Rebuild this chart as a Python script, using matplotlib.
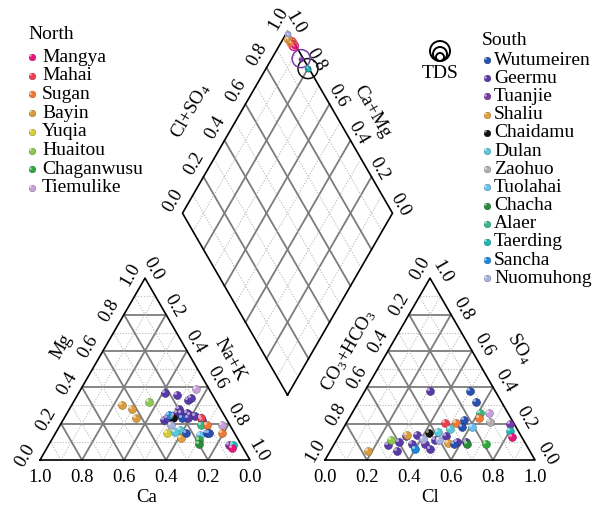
import numpy as np
import matplotlib.pyplot as plt
from matplotlib.colors import to_rgb
from matplotlib.patches import Circle

plt.rcParams['font.family'] = ['Liberation Serif', 'DejaVu Serif']
plt.rcParams['mathtext.fontset'] = 'custom'
plt.rcParams['mathtext.rm'] = 'Liberation Serif'
plt.rcParams['mathtext.it'] = 'Liberation Serif:italic'

# ---- data ----
north_sites = ['Mangya', 'Mahai', 'Sugan', 'Bayin', 'Yuqia', 'Huaitou',
               'Chaganwusu', 'Tiemulike']
south_sites = ['Wutumeiren', 'Geermu', 'Tuanjie', 'Shaliu', 'Chaidamu', 'Dulan',
               'Zaohuo', 'Tuolahai', 'Chacha', 'Alaer', 'Taerding', 'Sancha',
               'Nuomuhong']
site_colors = {
    'Mangya': '#e8177d', 'Mahai': '#ec3f4f', 'Sugan': '#f07a35',
    'Bayin': '#dc9c3c', 'Yuqia': '#d8cc38', 'Huaitou': '#8cc850',
    'Chaganwusu': '#2fa83c', 'Tiemulike': '#c8a0d8',
    'Wutumeiren': '#2850b0', 'Geermu': '#5a3aa8', 'Tuanjie': '#7a3aa8',
    'Shaliu': '#e0a040', 'Chaidamu': '#101010', 'Dulan': '#58c8d8',
    'Zaohuo': '#b0b0b0', 'Tuolahai': '#68c0f0', 'Chacha': '#2a8a3a',
    'Alaer': '#38b888', 'Taerding': '#18b8b8', 'Sancha': '#1888d8',
    'Nuomuhong': '#a8b0e0',
}

# cations (fractions), Na+K = 1 - Ca - Mg
cat_site = ['Bayin', 'Bayin', 'Bayin', 'Huaitou', 'Geermu', 'Geermu', 'Geermu',
            'Geermu', 'Tiemulike', 'Geermu', 'Geermu', 'Geermu', 'Geermu',
            'Geermu', 'Geermu', 'Geermu', 'Geermu', 'Geermu', 'Geermu', 'Geermu',
            'Geermu', 'Mahai', 'Chaidamu', 'Wutumeiren', 'Sancha', 'Nuomuhong',
            'Dulan', 'Dulan', 'Yuqia', 'Shaliu', 'Wutumeiren', 'Alaer', 'Sugan',
            'Tuolahai', 'Wutumeiren', 'Wutumeiren', 'Chaganwusu', 'Chacha',
            'Tiemulike', 'Sugan', 'Tuanjie', 'Taerding', 'Mangya']
cat_ca = [0.46, 0.42, 0.43, 0.32, 0.22, 0.17, 0.13, 0.11, 0.06, 0.20, 0.22,
          0.20, 0.17, 0.16, 0.14, 0.12, 0.30, 0.28, 0.24, 0.18, 0.12, 0.12,
          0.25, 0.21, 0.26, 0.28, 0.25, 0.28, 0.32, 0.27, 0.23, 0.14, 0.11,
          0.17, 0.13, 0.12, 0.19, 0.20, 0.04, 0.06, 0.06, 0.04, 0.055]
cat_mg = [0.30, 0.28, 0.23, 0.32, 0.37, 0.36, 0.33, 0.34, 0.39, 0.28, 0.26,
          0.26, 0.26, 0.25, 0.24, 0.23, 0.22, 0.23, 0.24, 0.23, 0.22, 0.23,
          0.23, 0.23, 0.25, 0.19, 0.165, 0.155, 0.15, 0.12, 0.15, 0.19, 0.19,
          0.14, 0.15, 0.15, 0.11, 0.09, 0.19, 0.15, 0.08, 0.08, 0.065]

# anions (fractions), CO3+HCO3 = 1 - Cl - SO4
an_site = ['Geermu', 'Wutumeiren', 'Wutumeiren', 'Alaer', 'Tiemulike', 'Sugan',
           'Zaohuo', 'Tuanjie', 'Taerding', 'Mangya', 'Mahai', 'Sugan',
           'Wutumeiren', 'Wutumeiren', 'Tuolahai', 'Dulan', 'Dulan', 'Chaidamu',
           'Geermu', 'Geermu', 'Geermu', 'Geermu', 'Geermu', 'Geermu', 'Geermu',
           'Geermu', 'Geermu', 'Geermu', 'Geermu', 'Geermu', 'Huaitou', 'Bayin',
           'Bayin', 'Nuomuhong', 'Nuomuhong', 'Sancha', 'Shaliu', 'Wutumeiren',
           'Chacha', 'Chaganwusu']
an_cl = [0.31, 0.50, 0.56, 0.61, 0.65, 0.62, 0.68, 0.78, 0.80, 0.83, 0.47,
         0.52, 0.55, 0.56, 0.61, 0.46, 0.51, 0.42, 0.37, 0.32, 0.30, 0.26,
         0.32, 0.37, 0.43, 0.47, 0.47, 0.51, 0.58, 0.62, 0.26, 0.32, 0.18,
         0.41, 0.49, 0.40, 0.54, 0.57, 0.63, 0.72]
an_so4 = [0.38, 0.38, 0.32, 0.26, 0.26, 0.23, 0.21, 0.20, 0.16, 0.125, 0.205,
          0.205, 0.22, 0.18, 0.18, 0.155, 0.17, 0.15, 0.14, 0.13, 0.10, 0.08,
          0.05, 0.09, 0.09, 0.06, 0.11, 0.13, 0.10, 0.10, 0.11, 0.14, 0.05,
          0.115, 0.11, 0.06, 0.095, 0.09, 0.09, 0.09]

# diamond: Cl+SO4, Ca+Mg and TDS ring radius (px)
dia_site = ['Chaidamu', 'Tuanjie', 'Mangya', 'Mahai', 'Sugan', 'Bayin',
            'Taerding', 'Nuomuhong']
dia_clso4 = [0.995, 0.99, 0.99, 0.99, 0.985, 0.98, 0.995, 0.995]
dia_camg = [0.80, 0.86, 0.93, 0.95, 0.95, 0.975, 0.80, 0.99]
dia_tds = [10, 9, 4.5, 4.5, 3.5, 3.5, 2.5, 2.5]

# ---- geometry ----
S = 210.0                      # px per unit side
H = np.sqrt(3) / 2
GAP = 75 / S
X0R = 1 + GAP                  # right triangle origin
B = np.array([1 + GAP / 2, GAP * H])
L = B + np.array([-0.5, H])
R = B + np.array([0.5, H])


def px(x, y):
    return (x - 40) / S, (460 - y) / S


def cat_xy(ca, mg):
    nak = 1 - ca - mg
    return nak + mg / 2, mg * H


def an_xy(cl, so4):
    return X0R + cl + so4 / 2, so4 * H


def dia_xy(clso4, camg):
    p = B + camg * (L - B) + clso4 * (R - B)
    return p[0], p[1]


fig = plt.figure(figsize=(6.03, 5.07), dpi=100)
ax = fig.add_axes([0, 0, 1, 1])
ax.set_xlim(-40 / S, 563 / S)
ax.set_ylim(-47 / S, 460 / S)
ax.axis('off')

major = dict(color='#7c7c7c', lw=1.3, zorder=1)
minor = dict(color='#b8b8b8', lw=0.8, ls=(0, (1, 1.5)), zorder=1)


def tri_grid(x0):
    for i in range(1, 10):
        t = i / 10
        st = major if i % 2 == 0 else minor
        ax.plot([x0 + t / 2, x0 + 1 - t / 2], [t * H, t * H], **st)
        ax.plot([x0 + t, x0 + t / 2 + 0.5], [0, (1 - t) * H], **st)
        ax.plot([x0 + t, x0 + t / 2], [0, t * H], **st)
    ax.plot([x0, x0 + 1, x0 + 0.5, x0], [0, 0, H, 0], color='k', lw=1.2, zorder=2)


tri_grid(0)
tri_grid(X0R)
for i in range(1, 10):
    t = i / 10
    st = major if i % 2 == 0 else minor
    a = B + t * (L - B)
    b = a + (R - B)
    ax.plot([a[0], b[0]], [a[1], b[1]], **st)
    a = B + t * (R - B)
    b = a + (L - B)
    ax.plot([a[0], b[0]], [a[1], b[1]], **st)
T = L + (R - B)
ax.plot([B[0], L[0], T[0], R[0], B[0]], [B[1], L[1], T[1], R[1], B[1]],
        color='k', lw=1.2, zorder=2)

# ---- tick labels ----
fs = 13.5
tk = dict(fontsize=fs, ha='center', va='center', rotation_mode='anchor')
vals = [0.0, 0.2, 0.4, 0.6, 0.8, 1.0]
for v in vals:
    s = f'{v:.1f}'
    ax.text(1 - v, -18 / S, s, **tk)
    x, y = v / 2, v * H
    ax.text(x - 15 / S, y + 4 / S, s, rotation=60, **tk)
    x, y = 0.5 + v / 2, (1 - v) * H
    ax.text(x + 8.5 / S, y + 9 / S, s, rotation=-60, **tk)
    ax.text(X0R + v, -18 / S, s, **tk)
    x, y = X0R + (1 - v) / 2, (1 - v) * H
    ax.text(x - 10 / S, y + 9.5 / S, s, rotation=60, **tk)
    x, y = X0R + 1 - v / 2, v * H
    ax.text(x + 12 / S, y + 6 / S, s, rotation=-60, **tk)
    x, y = dia_xy(v, 1.0)
    ax.text(x - 9 / S, y + 13 / S, s, rotation=60, **tk)
    x, y = dia_xy(1.0, v)
    ax.text(x + 8 / S, y + 8 / S, s, rotation=-60, **tk)

ax.text(*px(147, 497), 'Ca', **tk)
ax.text(*px(62, 347), 'Mg', rotation=60, **tk)
ax.text(*px(230, 360), 'Na+K', rotation=-60, **tk)
ax.text(*px(430, 497), 'Cl', **tk)
ax.text(*px(348, 350), 'CO$_3$+HCO$_3$', rotation=60, **tk)
ax.text(*px(520, 348), 'SO$_4$', rotation=-60, **tk)
ax.text(*px(191, 111), 'Cl+SO$_4$', rotation=60, **tk)
ax.text(*px(372, 112), 'Ca+Mg', rotation=-60, **tk)


def ball(x, y, color, s=32, z=5):
    c = np.array(to_rgb(color))
    ax.scatter(x, y, s=s, color=c, edgecolors=c * 0.7, linewidths=0.4, zorder=z)
    hl = c + (1 - c) * 0.55
    r = np.sqrt(s) * 0.25 / 72 * 100 / S
    ax.scatter(np.asarray(x) - r, np.asarray(y) + r, s=s * 0.15, color=hl,
               linewidths=0, zorder=z + 0.1)


for site, ca, mg in zip(cat_site, cat_ca, cat_mg):
    x, y = cat_xy(ca, mg)
    ball(x, y, site_colors[site])
for site, cl, so4 in zip(an_site, an_cl, an_so4):
    x, y = an_xy(cl, so4)
    ball(x, y, site_colors[site])
for site, a, b, r in zip(dia_site, dia_clso4, dia_camg, dia_tds):
    x, y = dia_xy(a, b)
    ax.add_patch(Circle((x, y), r / S, fill=False, ec=site_colors[site],
                        lw=1.1, zorder=4))
    ball(x, y, site_colors[site], s=13)

# ---- legends ----
lg = dict(fontsize=14, va='center', ha='left')
ax.text(*px(28, 34), 'North', **lg)
for i, site in enumerate(north_sites):
    yy = 57 + i * 18.7
    ball(*px(32, yy), site_colors[site], s=22)
    ax.text(*px(42, yy), site, **lg)
ax.text(*px(482, 40), 'South', **lg)
for i, site in enumerate(south_sites):
    yy = 60 + i * 18.2
    ball(*px(487, yy), site_colors[site], s=22)
    ax.text(*px(494, yy), site, **lg)

# TDS size key
cx, by = px(440, 61)
for r in [4, 7, 10]:
    ax.add_patch(Circle((cx, by + r / S), r / S, fill=False, ec='k', lw=1.4))
ax.text(*px(440, 73), 'TDS', fontsize=14, ha='center', va='center')

fig.savefig('out.png', dpi=100)
